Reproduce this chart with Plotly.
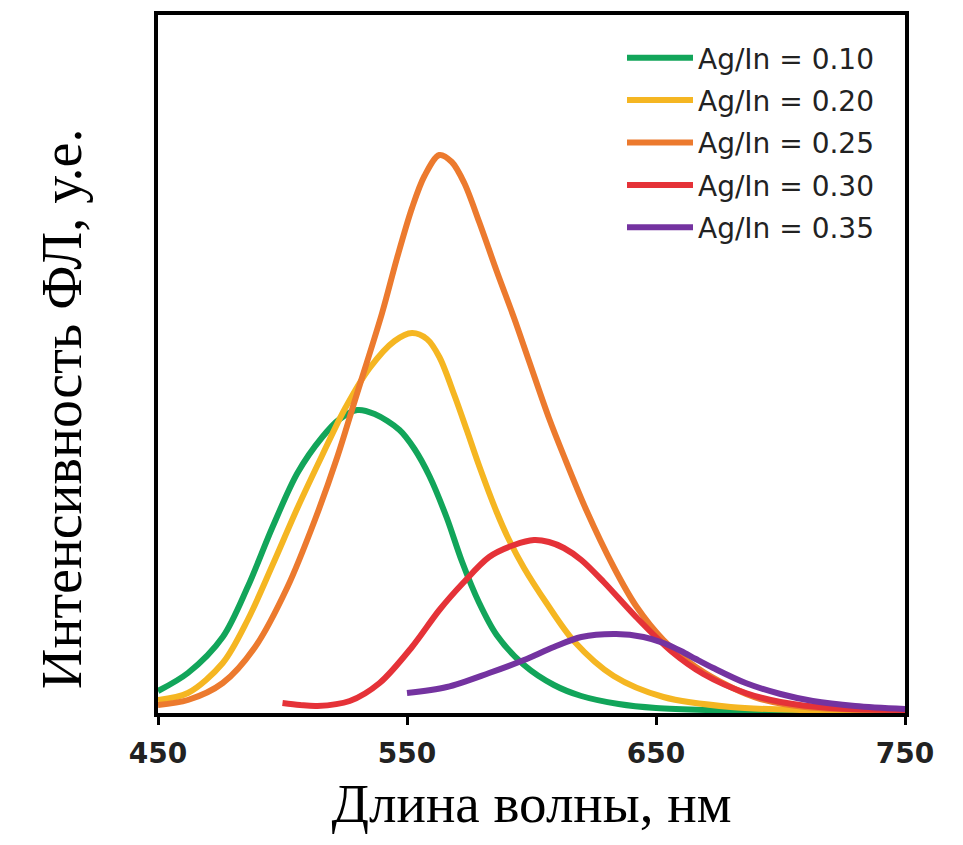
import plotly.graph_objects as go

# Ag/In = 0.10
wl_010 = [450, 462, 476, 486, 496, 506, 516, 523, 530, 537, 547, 553, 559, 566, 572, 579, 586, 597, 609, 620, 635, 650, 670, 700, 750]
int_010 = [22, 40, 76, 126, 186, 240, 276, 294, 303, 299, 283, 264, 237, 195, 152, 110, 78, 48, 28, 17, 9, 5, 3, 2, 1]

# Ag/In = 0.20
wl_020 = [450, 462, 476, 486, 496, 506, 516, 525, 535, 545, 552, 558, 563, 569, 574, 579, 586, 591, 597, 606, 617, 633, 653, 680, 710, 750]
int_020 = [13, 20, 50, 93, 148, 205, 258, 304, 345, 372, 380, 374, 356, 318, 283, 247, 201, 173, 145, 110, 72, 37, 16, 6, 3, 2]

# Ag/In = 0.25
wl_025 = [450, 462, 476, 489, 502, 513, 522, 529, 540, 546, 552, 557, 563, 568, 573, 579, 586, 593, 599, 607, 613, 622, 633, 642, 653, 666, 680, 692, 710, 750]
int_025 = [8, 13, 30, 66, 126, 193, 256, 312, 400, 455, 505, 537, 558, 551, 530, 491, 442, 395, 352, 295, 257, 203, 146, 107, 73, 46, 26, 14, 6, 2]

# Ag/In = 0.30
wl_030 = [500, 507, 514, 527, 539, 552, 563, 572.5, 583, 593, 601, 607, 613, 620, 629, 642, 656, 669, 686, 700, 720, 750]
int_030 = [10, 8, 7, 12, 30, 66, 103, 130, 156, 168, 173, 171, 165, 153, 131, 96, 62, 39, 20, 11, 5, 3]

# Ag/In = 0.35
wl_035 = [550, 566, 583, 597, 609, 620, 634, 645, 653, 660, 666, 673, 686, 700, 713, 730, 750]
int_035 = [20, 26, 40, 53, 66, 76, 79, 76, 70, 62, 54, 45, 30, 19, 12, 7, 4]

names = ["Ag/In = 0.10", "Ag/In = 0.20", "Ag/In = 0.25", "Ag/In = 0.30", "Ag/In = 0.35"]
colors = ["#12a55a", "#f5b622", "#ec7a2e", "#e53238", "#7433a0"]
x_ticks = [450, 550, 650, 750]

series = [(wl_010, int_010), (wl_020, int_020), (wl_025, int_025), (wl_030, int_030), (wl_035, int_035)]

fig = go.Figure()
for (x, y), name, c in zip(series, names, colors):
    fig.add_trace(go.Scatter(
        x=x, y=y, mode="lines", name=name,
        line=dict(color=c, width=6, shape="spline", smoothing=0.9),
        legendgroup=name,
    ))

# the page body has an 8px margin, so the figure is sized/offset to compensate
W, H = 947, 829
L, T = 150, 7
pw, ph = 747, 698
R, B = W - L - pw, H - T - ph

fig.update_layout(
    width=W, height=H,
    margin=dict(l=L, r=R, t=T, b=B, autoexpand=False),
    paper_bgcolor="white", plot_bgcolor="white",
    showlegend=True,
    legend=dict(
        x=(614 - L) / pw, y=1 - (25 - T) / ph, yanchor="top", xanchor="left",
        bgcolor="rgba(0,0,0,0)",
        font=dict(family="DejaVu Sans", size=28, color="#222"),
        itemwidth=66, tracegroupgap=3,
    ),
    xaxis=dict(
        range=[450, 750], tickvals=x_ticks, ticktext=[str(v) for v in x_ticks],
        showline=True, linecolor="black", linewidth=4, mirror=True,
        ticks="outside", ticklen=8, tickwidth=3, tickcolor="black",
        ticklabelstandoff=4,
        showgrid=False, zeroline=False, automargin=False,
        tickfont=dict(family="DejaVu Sans", size=28, color="#222", weight="bold"),
        title=dict(text="Длина волны, нм", font=dict(family="Liberation Serif", size=55, color="black"), standoff=16),
    ),
    yaxis=dict(
        range=[0, 698], showticklabels=False, ticks="",
        showline=True, linecolor="black", linewidth=4, mirror=True,
        showgrid=False, zeroline=False, automargin=False,
    ),
    annotations=[dict(
        text="Интенсивность ФЛ, у.е.", textangle=-90,
        xref="paper", yref="paper",
        x=(54 - L) / pw, y=1 - (401 - T) / ph,
        xanchor="center", yanchor="middle", showarrow=False,
        font=dict(family="Liberation Serif", size=56, color="black"),
    )],
)

fig.write_html("out.html")
